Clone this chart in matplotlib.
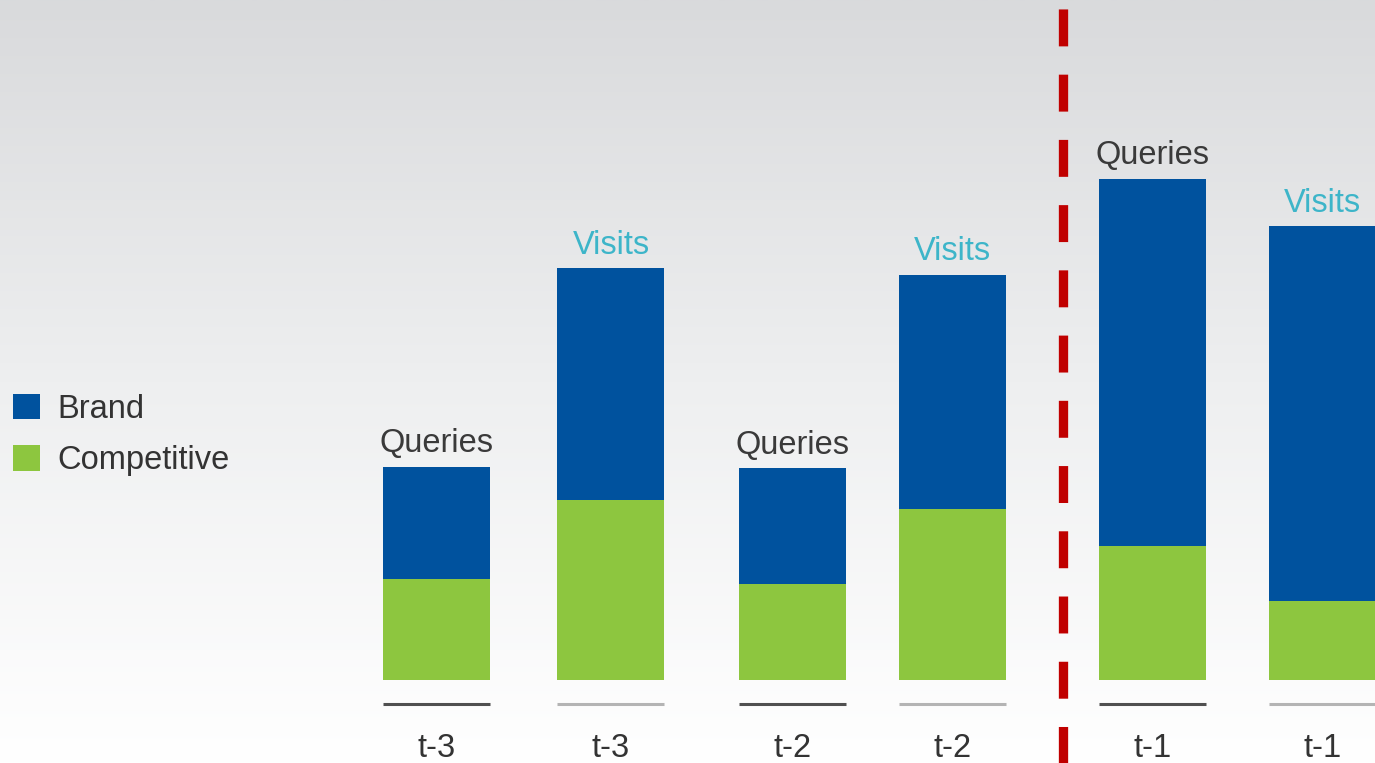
import numpy as np
import matplotlib
matplotlib.use("Agg")
from matplotlib import pyplot as plt
from matplotlib.colors import LinearSegmentedColormap

plt.rcParams["font.family"] = ["Liberation Sans", "DejaVu Sans"]

# data (arbitrary units)
kinds = ["Queries", "Visits", "Queries", "Visits", "Queries", "Visits"]
periods = ["t-3", "t-3", "t-2", "t-2", "t-1", "t-1"]
competitive = [10.1, 18.0, 9.6, 17.1, 13.4, 7.9]
brand = [11.2, 23.2, 11.6, 23.4, 36.7, 37.5]
series_names = ["Brand", "Competitive"]

# layout (figure pixels along x)
x_pos = [436.5, 611, 793, 952.5, 1153, 1322.5]
bar_w = 107
split_x = 1063

BLUE = "#00529E"
GREEN = "#8DC63F"
RED = "#C00000"
kind_color = {"Queries": "#3a3a3a", "Visits": "#3DB5C9"}
rule_color = {"Queries": "#505050", "Visits": "#b4b4b4"}
FS = 23.5

fig = plt.figure(figsize=(13.75, 7.63), dpi=100)
ax = fig.add_axes([0, 0, 1, 1])
ax.axis("off")
y_lo, y_hi = -8.3, 68.0

# background gradient, light gray at top to white at bottom
bg = LinearSegmentedColormap.from_list("bg", ["#ffffff", "#eeeff0", "#d9dadc"])
ax.imshow(np.linspace(0, 1, 256)[:, None], extent=[0, 1375, y_lo, y_hi],
          origin="lower", aspect="auto", cmap=bg, zorder=0)

green_bars = ax.bar(x_pos, competitive, width=bar_w, color=GREEN, zorder=2)
blue_bars = ax.bar(x_pos, brand, bottom=competitive, width=bar_w, color=BLUE, zorder=2)

for x, c, b, k, p in zip(x_pos, competitive, brand, kinds, periods):
    ax.text(x, c + b + 2.3, k, ha="center", va="center", fontsize=FS,
            color=kind_color[k], zorder=3)
    ax.hlines(-2.4, x - bar_w / 2, x + bar_w / 2, colors=rule_color[k], lw=2.2, zorder=2)
    ax.text(x, -6.85, p, ha="center", va="center", fontsize=FS, color="#333333", zorder=3)

# dashed divider between past and latest period
ax.plot([split_x, split_x], [y_hi, y_lo], color=RED, lw=6.7,
        linestyle=(6.05, (3.97, 3.04)), zorder=4)

ax.set_xlim(0, 1375)
ax.set_ylim(y_lo, y_hi)

ax.legend([blue_bars, green_bars], series_names, loc="center left",
          bbox_to_anchor=(13 / 1375, 0.43), frameon=False, fontsize=FS,
          handlelength=0.83, handleheight=0.83, handletextpad=0.52,
          labelspacing=0.62, borderpad=0, borderaxespad=0, labelcolor="#333333")

fig.savefig("out.png", dpi=100)
